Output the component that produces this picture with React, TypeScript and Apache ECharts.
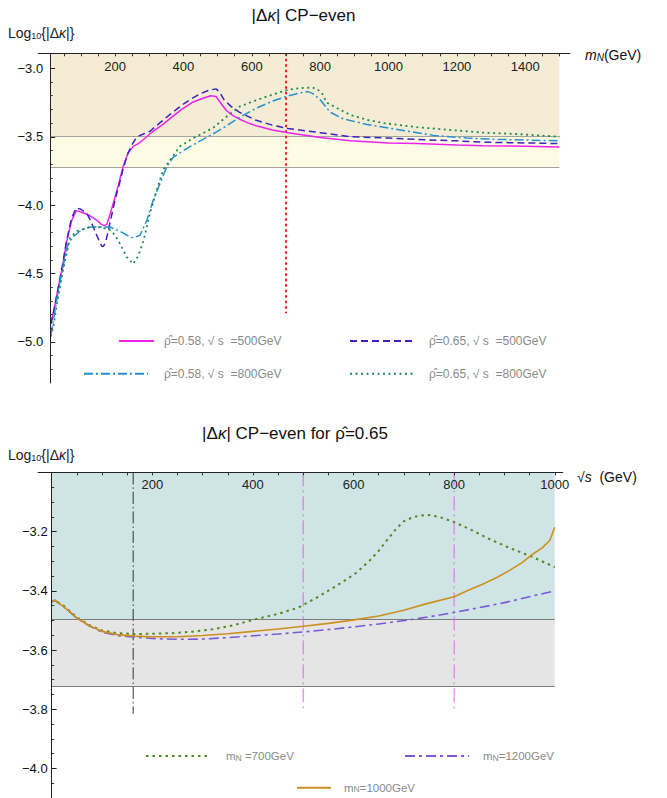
import React, { useEffect, useRef } from "react";
import * as echarts from "echarts";

const FONT = "'Liberation Sans', Arial, sans-serif";

// ---------------- Top panel: Log10|Δκ| vs m_N (GeV) ----------------
const r058s500X = [12, 20, 34, 46, 58, 72, 86, 100, 121, 146, 160, 168, 176, 186, 200, 212, 223, 238, 253, 268, 283, 311, 340, 364, 395, 425, 455, 480, 495, 508, 526, 545, 563, 590, 613, 660, 706, 800, 888, 1000, 1083, 1200, 1277, 1400, 1500];
const r058s500Y = [-4.86, -4.78, -4.6, -4.45, -4.27, -4.12, -4.04, -4.05, -4.07, -4.11, -4.14, -4.15, -4.14, -4.06, -3.94, -3.83, -3.72, -3.62, -3.57, -3.55, -3.52, -3.46, -3.41, -3.36, -3.3, -3.25, -3.22, -3.2, -3.205, -3.25, -3.31, -3.345, -3.37, -3.4, -3.42, -3.45, -3.47, -3.505, -3.53, -3.545, -3.55, -3.56, -3.565, -3.57, -3.575];

const r065s500X = [12, 20, 34, 46, 58, 72, 86, 100, 117, 128, 136, 148, 161, 166, 171, 178, 185, 200, 212, 223, 236, 249, 264, 283, 302, 330, 364, 395, 425, 450, 475, 495, 505, 519, 540, 563, 613, 660, 706, 800, 888, 1000, 1083, 1200, 1277, 1400, 1500];
const r065s500Y = [-4.87, -4.78, -4.6, -4.44, -4.26, -4.1, -4.02, -4.03, -4.06, -4.11, -4.16, -4.23, -4.3, -4.3, -4.28, -4.21, -4.13, -3.96, -3.85, -3.74, -3.63, -3.56, -3.5, -3.48, -3.46, -3.4, -3.33, -3.27, -3.22, -3.185, -3.16, -3.15, -3.17, -3.23, -3.28, -3.32, -3.38, -3.415, -3.44, -3.47, -3.5, -3.51, -3.52, -3.53, -3.54, -3.545, -3.55];

const r058s800X = [12, 19, 34, 49, 63, 78, 102, 127, 156, 185, 214, 235, 253, 273, 293, 312, 332, 351, 370, 400, 449, 497, 526, 570, 614, 660, 708, 740, 764, 779, 800, 829, 868, 937, 1034, 1131, 1229, 1327, 1420, 1500];
const r058s800Y = [-4.95, -4.85, -4.62, -4.43, -4.28, -4.23, -4.18, -4.16, -4.16, -4.16, -4.19, -4.22, -4.24, -4.22, -4.11, -3.96, -3.84, -3.72, -3.65, -3.6, -3.53, -3.465, -3.42, -3.35, -3.29, -3.24, -3.2, -3.18, -3.17, -3.185, -3.23, -3.32, -3.37, -3.41, -3.45, -3.49, -3.51, -3.52, -3.525, -3.53];

const r065s800X = [12, 19, 34, 49, 68, 88, 127, 156, 185, 200, 214, 234, 253, 268, 283, 302, 322, 341, 361, 390, 429, 468, 489, 525, 564, 600, 639, 675, 708, 740, 776, 790, 805, 819, 849, 888, 935, 985, 1083, 1180, 1278, 1376, 1500];
const r065s800Y = [-4.96, -4.89, -4.66, -4.46, -4.24, -4.19, -4.16, -4.16, -4.18, -4.22, -4.28, -4.38, -4.43, -4.37, -4.26, -4.06, -3.89, -3.74, -3.67, -3.57, -3.51, -3.46, -3.43, -3.355, -3.28, -3.245, -3.21, -3.18, -3.155, -3.145, -3.14, -3.15, -3.18, -3.25, -3.29, -3.34, -3.375, -3.4, -3.43, -3.45, -3.47, -3.48, -3.5];

const topRefX = [700, 700];
const topRefY = [-2.89, -4.79];

const topXRange = [-25, 1531];
const topYRange = [-5.3, -2.89];
const topBandX = [10, 1500];
const topBandUpper = [-3.495, -2.89];
const topBandLower = [-3.72, -3.495];

const topXTicks = [50, 100, 150, 200, 250, 300, 350, 400, 450, 500, 550, 600, 650, 700, 750, 800, 850, 900, 950, 1000, 1050, 1100, 1150, 1200, 1250, 1300, 1350, 1400, 1450, 1500];
const topXLabels = [200, 400, 600, 800, 1000, 1200, 1400];
const topYMinor = [-5.2, -5.1, -5.0, -4.9, -4.8, -4.7, -4.6, -4.5, -4.4, -4.3, -4.2, -4.1, -4.0, -3.9, -3.8, -3.7, -3.6, -3.5, -3.4, -3.3, -3.2, -3.1, -3.0];
const topYLabels = [-5.0, -4.5, -4.0, -3.5, -3.0];

// ---------------- Bottom panel: Log10|Δκ| vs √s (GeV), ρ̂ = 0.65 ----------------
const mN700X = [0, 6, 25, 50, 75, 100, 130, 165, 200, 240, 280, 320, 360, 403, 450, 490, 530, 573, 605, 632, 650, 666, 685, 700, 720, 745, 770, 800, 835, 870, 910, 955, 1000];
const mN700Y = [-3.437, -3.432, -3.452, -3.49, -3.516, -3.534, -3.543, -3.546, -3.545, -3.543, -3.538, -3.53, -3.517, -3.497, -3.478, -3.457, -3.42, -3.376, -3.34, -3.298, -3.265, -3.23, -3.19, -3.165, -3.15, -3.143, -3.15, -3.168, -3.195, -3.225, -3.255, -3.285, -3.32];

const mN1000X = [0, 6, 25, 50, 75, 100, 130, 165, 200, 250, 300, 350, 400, 450, 500, 550, 598, 650, 700, 742, 800, 826, 860, 885, 911, 935, 953, 975, 990, 1000];
const mN1000Y = [-3.437, -3.432, -3.455, -3.492, -3.518, -3.537, -3.548, -3.553, -3.555, -3.555, -3.551, -3.545, -3.537, -3.529, -3.52, -3.51, -3.499, -3.485, -3.466, -3.445, -3.42, -3.4, -3.375, -3.355, -3.33, -3.305, -3.28, -3.255, -3.23, -3.185];

const mN1200X = [0, 6, 25, 50, 75, 100, 130, 165, 200, 250, 300, 350, 400, 450, 500, 550, 600, 650, 716, 750, 800, 850, 900, 950, 1000];
const mN1200Y = [-3.437, -3.432, -3.455, -3.492, -3.519, -3.54, -3.551, -3.557, -3.561, -3.564, -3.563, -3.558, -3.552, -3.546, -3.539, -3.531, -3.522, -3.512, -3.497, -3.488, -3.473, -3.457, -3.44, -3.42, -3.4];

const botBlackX = [162, 162];
const botBlackY = [-3.0, -3.815];
const botPinkAX = [500, 500];
const botPinkBX = [800, 800];
const botPinkY = [-3.0, -3.8];

const botXRange = [-27, 1016];
const botYRange = [-4.1, -3.0];
const botBandX = [0, 1000];
const botBandUpper = [-3.495, -3.0];
const botBandLower = [-3.723, -3.495];

const botXTicks = [50, 100, 150, 200, 250, 300, 350, 400, 450, 500, 550, 600, 650, 700, 750, 800, 850, 900, 950, 1000];
const botXLabels = [200, 400, 600, 800, 1000];
const botYMinor = [-4.05, -4.0, -3.95, -3.9, -3.85, -3.8, -3.75, -3.7, -3.65, -3.6, -3.55, -3.5, -3.45, -3.4, -3.35, -3.3, -3.25, -3.2, -3.15, -3.1, -3.05];
const botYLabels = [-4.0, -3.8, -3.6, -3.4, -3.2];

const zip = (xs: number[], ys: number[]) => xs.map((x, i) => [x, ys[i]]);

const legendText: Record<string, string> = {
  r058s500: "ρ̂=0.58, √ s  =500GeV",
  r065s500: "ρ̂=0.65, √ s  =500GeV",
  r058s800: "ρ̂=0.58, √ s  =800GeV",
  r065s800: "ρ̂=0.65, √ s  =800GeV",
  mN700: "m{sub|N} =700GeV",
  mN1200: "m{sub|N}=1200GeV",
  mN1000: "m{sub|N}=1000GeV",
};

function buildOption(): any {
  const yFmt = (v: number) => (v < 0 ? "−" : "") + Math.abs(v).toFixed(1);
  const axisLineStyle = { color: "#222", width: 1 };

  const xAxis = (gridIndex: number, range: number[], ticks: number[], labels: number[], margin: number) => ({
    type: "value",
    gridIndex,
    min: range[0],
    max: range[1],
    position: "top",
    z: 6,
    axisLine: { show: true, onZero: false, lineStyle: axisLineStyle },
    axisTick: { show: true, inside: true, length: 3, customValues: ticks, lineStyle: { color: "#333" } },
    axisLabel: {
      show: true, inside: true, margin, customValues: labels,
      color: "#222", fontSize: 13, fontFamily: FONT,
      formatter: (v: number) => String(v),
    },
    splitLine: { show: false },
  });

  const yAxis = (gridIndex: number, range: number[], offset: number, minor: number[], labels: number[], margin: number) => ({
    type: "value",
    gridIndex,
    min: range[0],
    max: range[1],
    position: "left",
    offset,
    z: 6,
    axisLine: { show: true, onZero: false, lineStyle: axisLineStyle },
    axisTick: { show: true, inside: true, length: 2.5, customValues: minor, lineStyle: { color: "#333" } },
    axisLabel: {
      show: true, margin, customValues: labels, color: "#111",
      fontSize: 13, fontFamily: FONT, formatter: yFmt,
    },
    splitLine: { show: false },
  });

  const yAxisMajor = (gridIndex: number, range: number[], offset: number, major: number[]) => ({
    type: "value",
    gridIndex,
    min: range[0],
    max: range[1],
    position: "left",
    offset,
    z: 6,
    axisLine: { show: false, onZero: false },
    axisTick: { show: true, inside: true, length: 5, customValues: major, lineStyle: { color: "#222" } },
    axisLabel: { show: false },
    splitLine: { show: false },
  });

  const curve = (name: string, xi: number, yi: number, data: number[][], color: string, type: any, width: number) => ({
    name,
    type: "line",
    xAxisIndex: xi,
    yAxisIndex: yi,
    data,
    symbol: "none",
    showSymbol: false,
    silent: true,
    z: 3,
    lineStyle: { color, type, width },
    itemStyle: { color },
  });

  const band = (xr: number[], yr: number[], color: string) => [
    { coord: [xr[0], yr[1]], itemStyle: { color } },
    { coord: [xr[1], yr[0]] },
  ];
  const hline = (xr: number[], y: number) => [{ coord: [xr[0], y] }, { coord: [xr[1], y] }];

  const legend = (name: string, left: number, top: number, w: number, pad: number, fontSize: number) => ({
    data: [name],
    left,
    top,
    padding: 0,
    itemWidth: w,
    itemHeight: 10,
    itemGap: 0,
    selectedMode: false,
    itemStyle: { opacity: 0 },
    textStyle: {
      color: "#8a8a8a",
      fontSize,
      fontFamily: FONT,
      padding: [0, 0, 0, pad],
      rich: {
        sub: { fontSize: fontSize - 3, fontFamily: FONT, color: "#8a8a8a", verticalAlign: "bottom", lineHeight: 8 },
      },
    },
    formatter: (n: string) => legendText[n],
  });

  const gtext = (x: number, y: number, text: string, size: number, align: string, fill = "#111") => ({
    type: "text",
    x,
    y,
    silent: true,
    style: {
      text,
      fill,
      fontSize: size,
      fontFamily: FONT,
      align,
      textAlign: align,
      verticalAlign: "middle",
      textVerticalAlign: "middle",
      rich: {
        i: { fontSize: size, fontFamily: FONT, fontStyle: "italic", fill },
        sub: { fontSize: size - 5, fontFamily: FONT, fill, verticalAlign: "bottom", lineHeight: size - 5, padding: [6, 0, 0, 0] },
        isub: { fontSize: size - 4, fontFamily: FONT, fontStyle: "italic", fill, verticalAlign: "bottom", lineHeight: size - 4, padding: [6, 0, 0, 0] },
      },
    },
  });

  return {
    animation: false,
    backgroundColor: "#ffffff",
    textStyle: { fontFamily: FONT },
    grid: [
      { left: 38.2, top: 53.3, width: 531.8, height: 329.7, containLabel: false },
      { left: 38.1, top: 472.4, width: 524.7, height: 325.6, containLabel: false },
    ],
    xAxis: [
      xAxis(0, topXRange, topXTicks, topXLabels, 7),
      xAxis(1, botXRange, botXTicks, botXLabels, 6),
    ],
    yAxis: [
      yAxis(0, topYRange, -11.96, topYMinor, topYLabels, 7),
      yAxisMajor(0, topYRange, -11.96, topYLabels),
      yAxis(1, botYRange, -13.6, botYMinor, botYLabels, 4),
      yAxisMajor(1, botYRange, -13.6, botYLabels),
    ],
    legend: [
      legend("r058s500", 118, 335, 35, 5, 12),
      legend("r065s500", 349, 335, 65, 9, 12),
      legend("r058s800", 83, 367.7, 64, 11, 12),
      legend("r065s800", 349, 367.7, 65, 9, 12),
      legend("mN700", 145, 750, 65, 10, 11.5),
      legend("mN1200", 404, 750, 64, 9, 11.5),
      legend("mN1000", 296, 781.7, 34, 8, 11.5),
    ],
    graphic: [
      gtext(303.5, 15, "|Δ{i|κ}| CP−even", 17, "center"),
      gtext(8, 33, "Log{sub|10}{|Δ{i|κ}|}", 14, "left", "#222"),
      gtext(585, 55, "{i|m}{isub|N}(GeV)", 14, "left"),
      gtext(295, 433, "|Δ{i|κ}| CP−even for ρ̂=0.65", 17, "center"),
      gtext(8, 455, "Log{sub|10}{|Δ{i|κ}|}", 14, "left", "#222"),
      gtext(577, 477, "√{i|s}  (GeV)", 14, "left"),
    ],
    series: [
      {
        name: "topRef",
        type: "line",
        xAxisIndex: 0,
        yAxisIndex: 0,
        data: zip(topRefX, topRefY),
        symbol: "none",
        silent: true,
        z: 2,
        lineStyle: { color: "#f02020", width: 2, type: [2.5, 3] },
        markArea: {
          silent: true,
          z: 1,
          data: [band(topBandX, topBandUpper, "#f4ecd4"), band(topBandX, topBandLower, "#fdfbe4")],
        },
        markLine: {
          silent: true,
          z: 1.5,
          symbol: "none",
          label: { show: false },
          lineStyle: { color: "#a3a39b", width: 1, type: "solid" },
          data: [hline(topBandX, topBandUpper[0]), hline(topBandX, topBandLower[0])],
        },
      },
      curve("r058s500", 0, 0, zip(r058s500X, r058s500Y), "#ee22ee", "solid", 1.5),
      curve("r065s500", 0, 0, zip(r065s500X, r065s500Y), "#3d22c0", [7, 4], 1.5),
      curve("r058s800", 0, 0, zip(r058s800X, r058s800Y), "#2590cf", [9, 3, 2, 3], 1.5),
      curve("r065s800", 0, 0, zip(r065s800X, r065s800Y), "#1f8a55", [2, 3.5], 1.8),
      {
        name: "botBlack",
        type: "line",
        xAxisIndex: 1,
        yAxisIndex: 2,
        data: zip(botBlackX, botBlackY),
        symbol: "none",
        silent: true,
        z: 2,
        lineStyle: { color: "#333", width: 1, type: [12, 3, 1.5, 3] },
        markArea: {
          silent: true,
          z: 1,
          data: [band(botBandX, botBandUpper, "#cfe5e5"), band(botBandX, botBandLower, "#e5e5e5")],
        },
        markLine: {
          silent: true,
          z: 1.5,
          symbol: "none",
          label: { show: false },
          lineStyle: { color: "#7d7d7d", width: 1, type: "solid" },
          data: [hline(botBandX, botBandUpper[0]), hline(botBandX, botBandLower[0])],
        },
      },
      {
        name: "botPinkA",
        type: "line",
        xAxisIndex: 1,
        yAxisIndex: 2,
        data: zip(botPinkAX, botPinkY),
        symbol: "none",
        silent: true,
        z: 2,
        lineStyle: { color: "#e466ea", width: 1, type: [14, 4, 2, 4] },
      },
      {
        name: "botPinkB",
        type: "line",
        xAxisIndex: 1,
        yAxisIndex: 2,
        data: zip(botPinkBX, botPinkY),
        symbol: "none",
        silent: true,
        z: 2,
        lineStyle: { color: "#e466ea", width: 1, type: [14, 4, 2, 4] },
      },
      curve("mN700", 1, 2, zip(mN700X, mN700Y), "#4f8a1f", [2.5, 4], 2),
      curve("mN1200", 1, 2, zip(mN1200X, mN1200Y), "#7a58d8", [10, 4, 3, 4], 1.6),
      curve("mN1000", 1, 2, zip(mN1000X, mN1000Y), "#cd8f1e", "solid", 1.6),
    ],
  };
}

export default function App() {
  const ref = useRef<HTMLDivElement>(null);
  useEffect(() => {
    if (!ref.current) return;
    const chart = echarts.init(ref.current, null, { renderer: "svg" });
    chart.setOption(buildOption());
    return () => chart.dispose();
  }, []);
  return (
    <div
      ref={ref}
      style={{ position: "absolute", left: 0, top: 0, width: 667, height: 798, background: "#fff" }}
    />
  );
}
